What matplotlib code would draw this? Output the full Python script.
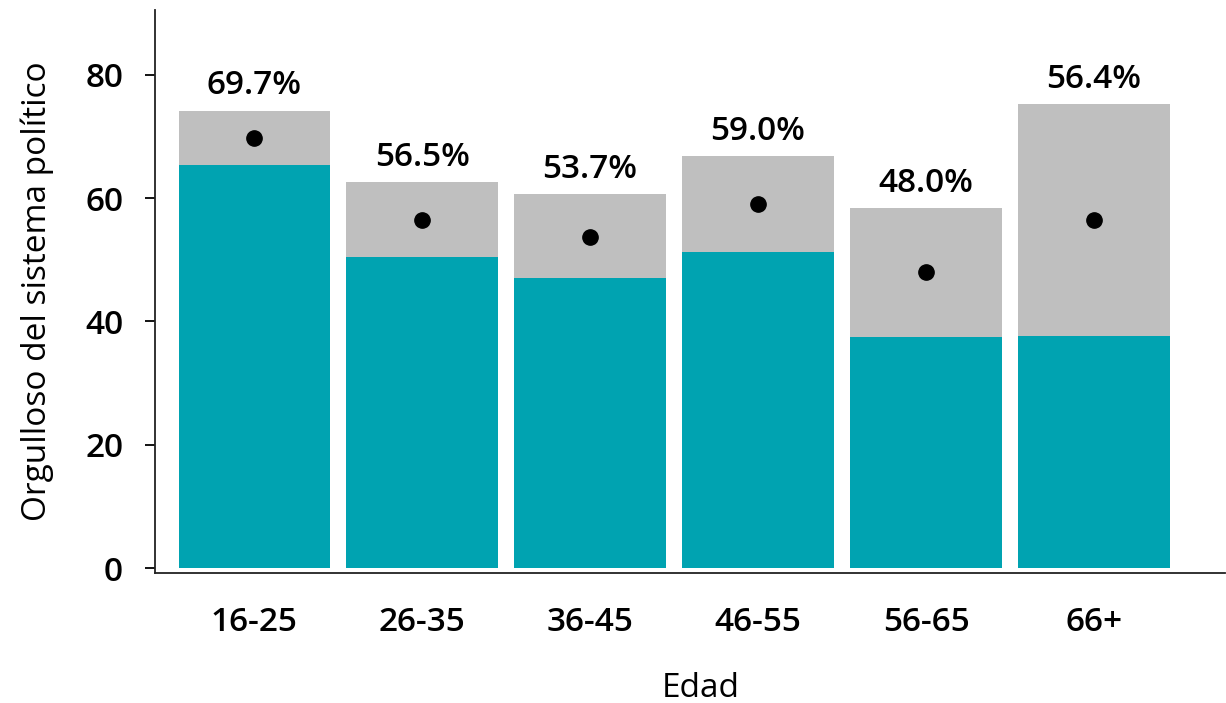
import numpy as np
import matplotlib
matplotlib.use("Agg")
import matplotlib.pyplot as plt

plt.rcParams['font.family'] = ['Open Sans', 'DejaVu Sans']
plt.rcParams['font.weight'] = 'semibold'

edades = ["16-25", "26-35", "36-45", "46-55", "56-65", "66+"]
media = [69.7, 56.5, 53.7, 59.0, 48.0, 56.4]
ic_inf = [65.4, 50.5, 47.1, 51.3, 37.5, 37.6]
ic_sup = [74.2, 62.6, 60.7, 66.9, 58.4, 75.3]

teal = "#00A3B1"
gris = "#BFBFBF"
fs = 24

fig = plt.figure(figsize=(12.26, 7.03), dpi=100)
ax = fig.add_axes([155/1226, (703-573)/703, 1070/1226, 563/703])

x = np.arange(len(edades))
ancho = 0.9
# barra teal hasta la media, gris para el intervalo
ax.bar(x, media, width=ancho, color=teal, zorder=1)
ax.bar(x, np.array(ic_sup) - np.array(ic_inf), bottom=ic_inf, width=ancho,
       color=gris, zorder=2)
ax.plot(x, media, 'o', color='black', markersize=11, zorder=3)

for xi, m, s in zip(x, media, ic_sup):
    ax.text(xi, s + 1.3, f"{m:.1f}%", ha='center', va='bottom', fontsize=fs)

ax.set_xlim(-0.59, 5.78)
ax.set_ylim(-0.8, 90.5)
ax.set_yticks([0, 20, 40, 60, 80])
ax.set_xticks(x)
ax.set_xticklabels(edades)

ax.spines['top'].set_visible(False)
ax.spines['right'].set_visible(False)
for sp in ['left', 'bottom']:
    ax.spines[sp].set_linewidth(1.3)
    ax.spines[sp].set_color('#222222')

ax.tick_params(axis='y', length=7, width=1.3, pad=16, labelsize=fs)
ax.tick_params(axis='x', length=0, pad=24, labelsize=fs)

ax.set_ylabel("Orgulloso del sistema político", fontsize=fs)
ax.set_xlabel("Edad", fontsize=fs)
ax.yaxis.set_label_coords(-0.094, 0.5)
ax.xaxis.set_label_coords(0.51, -0.175)

fig.savefig("out.png", dpi=100)
